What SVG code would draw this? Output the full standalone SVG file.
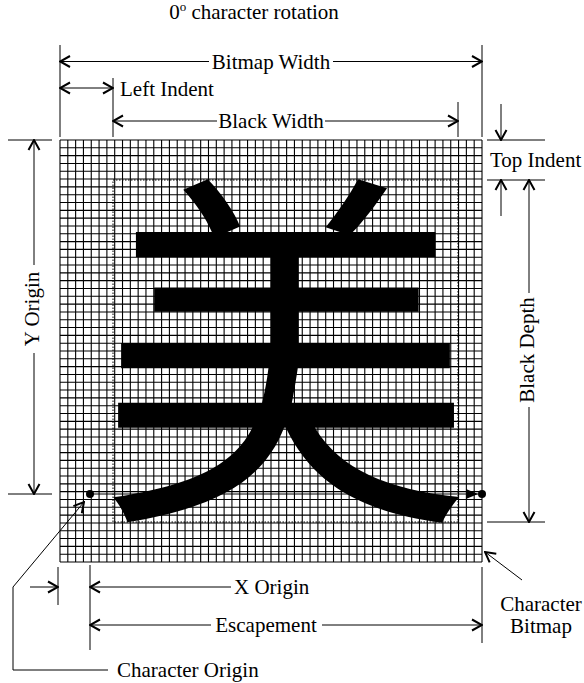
<svg xmlns="http://www.w3.org/2000/svg" width="584" height="683" viewBox="0 0 584 683">
<style>
text{font-family:"Liberation Serif","Times New Roman",serif;font-size:21px;fill:#000}
.ln{stroke:#000;stroke-width:1;fill:none}
.dim{stroke:#000;stroke-width:1;fill:none;marker-end:url(#ah)}
.dim2{stroke:#000;stroke-width:1;fill:none;marker-start:url(#ah);marker-end:url(#ah)}
.grid{stroke:#000;stroke-width:1.1;fill:none}
.dot{stroke:#000;stroke-width:1;fill:none;stroke-dasharray:1.5,1.5}
</style>
<defs>
<marker id="ah" viewBox="0 0 12 14" refX="11" refY="7" markerWidth="12" markerHeight="14" markerUnits="userSpaceOnUse" orient="auto-start-reverse"><path d="M1,1.5 L11,7 L1,12.5" fill="none" stroke="#000" stroke-width="2"/></marker>
<marker id="fa" viewBox="0 0 12 10" refX="12" refY="5" markerWidth="12" markerHeight="10" markerUnits="userSpaceOnUse" orient="auto"><path d="M0,0 L12,5 L0,10z" fill="#000"/></marker>
</defs>
<rect width="584" height="683" fill="#fff"/>

<g id="title"><text x="254" y="19" text-anchor="middle">0<tspan font-size="13" dy="-8">o</tspan><tspan dy="8"> character rotation</tspan></text></g>

<g id="bitmap-grid">
<path class="grid" d="M60,140V562M67.81,140V562M75.63,140V562M83.44,140V562M91.26,140V562M99.07,140V562M106.89,140V562M114.7,140V562M122.52,140V562M130.33,140V562M138.15,140V562M145.96,140V562M153.78,140V562M161.59,140V562M169.41,140V562M177.22,140V562M185.04,140V562M192.85,140V562M200.67,140V562M208.48,140V562M216.3,140V562M224.11,140V562M231.93,140V562M239.74,140V562M247.56,140V562M255.37,140V562M263.19,140V562M271,140V562M278.81,140V562M286.63,140V562M294.44,140V562M302.26,140V562M310.07,140V562M317.89,140V562M325.7,140V562M333.52,140V562M341.33,140V562M349.15,140V562M356.96,140V562M364.78,140V562M372.59,140V562M380.41,140V562M388.22,140V562M396.04,140V562M403.85,140V562M411.67,140V562M419.48,140V562M427.3,140V562M435.11,140V562M442.93,140V562M450.74,140V562M458.56,140V562M466.37,140V562M474.19,140V562M482,140V562"/>
<path class="grid" d="M60,140H482M60,147.81H482M60,155.63H482M60,163.44H482M60,171.26H482M60,179.07H482M60,186.89H482M60,194.7H482M60,202.52H482M60,210.33H482M60,218.15H482M60,225.96H482M60,233.78H482M60,241.59H482M60,249.41H482M60,257.22H482M60,265.04H482M60,272.85H482M60,280.67H482M60,288.48H482M60,296.3H482M60,304.11H482M60,311.93H482M60,319.74H482M60,327.56H482M60,335.37H482M60,343.19H482M60,351H482M60,358.81H482M60,366.63H482M60,374.44H482M60,382.26H482M60,390.07H482M60,397.89H482M60,405.7H482M60,413.52H482M60,421.33H482M60,429.15H482M60,436.96H482M60,444.78H482M60,452.59H482M60,460.41H482M60,468.22H482M60,476.04H482M60,483.85H482M60,491.67H482M60,499.48H482M60,507.3H482M60,515.11H482M60,522.93H482M60,530.74H482M60,538.56H482M60,546.37H482M60,554.19H482M60,562H482"/>
</g>

<g id="glyph"><text x="285.5" y="492.5" text-anchor="middle" style="font-family:'Noto Sans CJK JP','Noto Sans CJK SC',sans-serif;font-size:372px">美</text></g>

<g id="black-box"><rect class="dot" x="113" y="180" width="345" height="342"/></g>

<g id="origin-points">
<circle cx="90" cy="494" r="4" fill="#000"/>
<circle cx="482" cy="494" r="4" fill="#000"/>
</g>

<g id="labels">
<text x="271" y="69" text-anchor="middle">Bitmap Width</text>
<text x="120" y="96" >Left Indent</text>
<text x="271" y="128" text-anchor="middle">Black Width</text>
<text x="490" y="167">Top Indent</text>
<text transform="translate(38.5,309) rotate(-90)" text-anchor="middle">Y Origin</text>
<text transform="translate(534,350) rotate(-90)" text-anchor="middle">Black Depth</text>
<text x="234" y="594">X Origin</text>
<text x="266" y="632" text-anchor="middle">Escapement</text>
<text x="541" y="611" text-anchor="middle">Character</text>
<text x="541" y="633" text-anchor="middle">Bitmap</text>
<text x="117" y="677">Character Origin</text>
</g>

<g id="connectors">
<path class="ln" d="M60,45V137M482,45V137M113,78V137M458,102V137"/>
<path class="ln" d="M487,140H545M487,180H545M487,522H545"/>
<path class="ln" d="M8,140H52M8,494H52"/>
<path class="ln" d="M58,567V605M90,565V650M482,567V643"/>
<path class="dim" d="M209,61.5H60"/>
<path class="dim" d="M333,61.5H482"/>
<path class="dim2" d="M60,88H113"/>
<path class="dim" d="M217,121H113"/>
<path class="dim" d="M325,121H458"/>
<path class="dim" d="M501,104V140"/>
<path class="dim" d="M501,216V180"/>
<path class="dim" d="M529,293V180"/>
<path class="dim" d="M529,407V522"/>
<path class="dim" d="M34,265V140"/>
<path class="dim" d="M34,353V494"/>
<path class="dim" d="M30,587H58"/>
<path class="dim" d="M231,587H90"/>
<path class="dim" d="M211,625H90"/>
<path class="dim" d="M322,625H482"/>
<path class="ln" d="M90,494H478" marker-end="url(#fa)"/>
<path class="dim" d="M108,670H13V587L84,502"/>
<path class="dim" d="M522,580L485,552"/>
</g>
</svg>
